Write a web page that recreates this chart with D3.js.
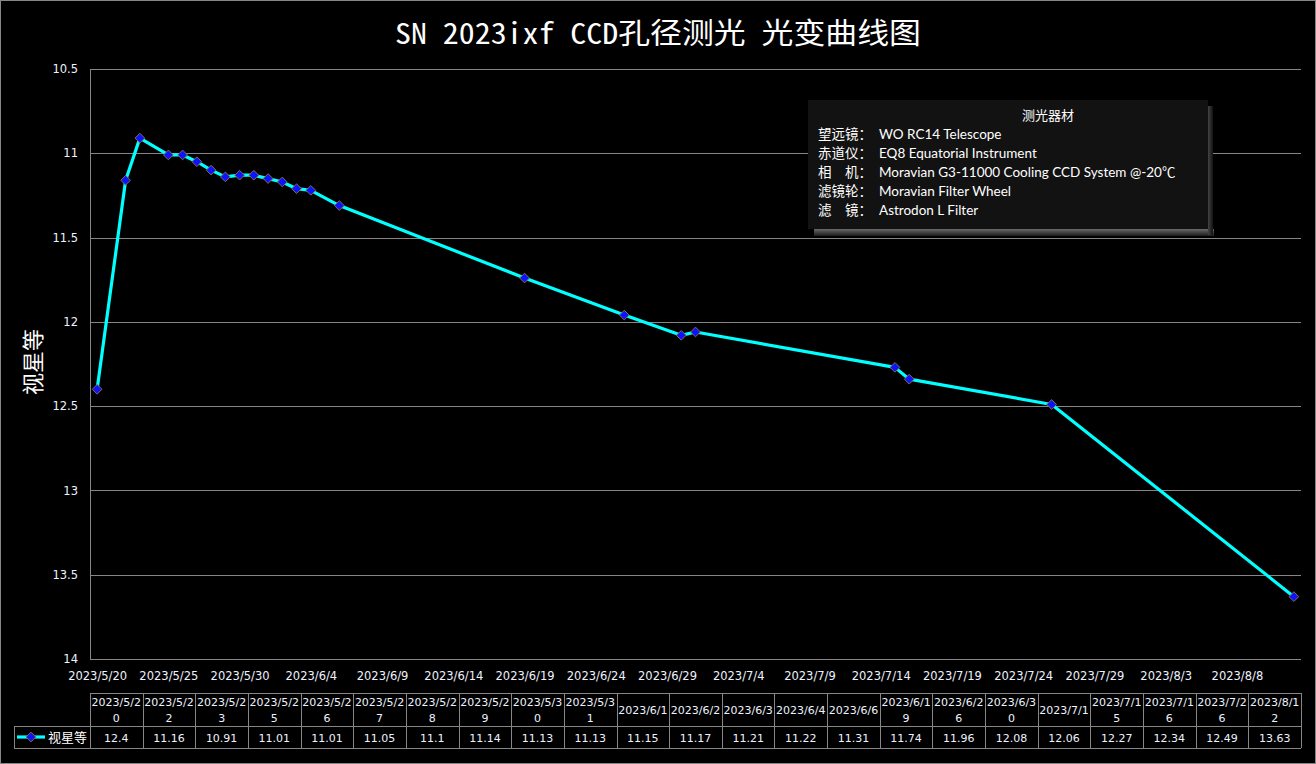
<!DOCTYPE html>
<html><head><meta charset="utf-8">
<script src="https://cdn.jsdelivr.net/npm/d3@7"></script>
<style>
html,body{margin:0;padding:0;background:#000;}
svg{display:block;}
</style></head>
<body>
<svg id="chart" width="1316" height="764"></svg>
<script>
// ---- data ----
const dates = ["2023/5/20","2023/5/22","2023/5/23","2023/5/25","2023/5/26","2023/5/27","2023/5/28","2023/5/29","2023/5/30","2023/5/31","2023/6/1","2023/6/2","2023/6/3","2023/6/4","2023/6/6","2023/6/19","2023/6/26","2023/6/30","2023/7/1","2023/7/15","2023/7/16","2023/7/26","2023/8/12"];
const mags = [12.4,11.16,10.91,11.01,11.01,11.05,11.1,11.14,11.13,11.13,11.15,11.17,11.21,11.22,11.31,11.74,11.96,12.08,12.06,12.27,12.34,12.49,13.63];
const yTicks = [10.5,11,11.5,12,12.5,13,13.5,14];
const xTickLabels = ["2023/5/20","2023/5/25","2023/5/30","2023/6/4","2023/6/9","2023/6/14","2023/6/19","2023/6/24","2023/6/29","2023/7/4","2023/7/9","2023/7/14","2023/7/19","2023/7/24","2023/7/29","2023/8/3","2023/8/8"];
const seriesName = "视星等";
const titleText = "SN 2023ixf CCD孔径测光 光变曲线图";
const yTitle = "视星等";
const boxTitle = "测光器材";
const boxLabels = ["望远镜：","赤道仪：","相　机：","滤镜轮：","滤　镜："];
const boxValues = ["WO RC14 Telescope","EQ8 Equatorial Instrument","Moravian G3-11000  Cooling CCD System @-20℃","Moravian Filter Wheel","Astrodon L Filter"];

// ---- helpers ----
const parse = s => { const [y,m,d] = s.split("/").map(Number); return new Date(Date.UTC(y,m-1,d)); };
const fmt = d3.utcFormat("%Y/%-m/%-d");
const pts = dates.map((d,i)=>({date:parse(d), v:mags[i], label:d}));

const svg = d3.select("#chart");
const W = 1316, H = 764;
const L = 90, R = 1301, T = 69, B = 659;
const txtCol = "#eef2ff";
const gridCol = "#868686";
const tableFont = "'DejaVu Sans', Verdana, sans-serif";

svg.append("rect").attr("x",0).attr("y",0).attr("width",W).attr("height",H).attr("fill","#000");
svg.append("rect").attr("x",0.5).attr("y",0.5).attr("width",W-1).attr("height",H-1)
  .attr("fill","none").attr("stroke",gridCol);

const x = d3.scaleUtc()
  .domain([d3.utcHour.offset(parse(dates[0]),-12), d3.utcHour.offset(parse(dates[dates.length-1]),12)])
  .range([L,R]);
const y = d3.scaleLinear().domain([10.5,14]).range([T,B]);

// title
svg.append("text").attr("x",658).attr("y",44)
  .attr("text-anchor","middle")
  .attr("font-family","'Noto Sans Mono CJK SC','Noto Sans CJK SC',monospace")
  .attr("font-size",29).attr("fill","#fff")
  .attr("textLength",526).attr("lengthAdjust","spacingAndGlyphs")
  .text(titleText);

// gridlines
svg.append("g").selectAll("line").data(yTicks).join("line")
  .attr("x1",L).attr("x2",R).attr("y1",d=>Math.round(y(d))+0.5).attr("y2",d=>Math.round(y(d))+0.5)
  .attr("stroke",gridCol).attr("stroke-width",1);
svg.append("line").attr("x1",L+0.5).attr("x2",L+0.5).attr("y1",T).attr("y2",B)
  .attr("stroke",gridCol);

// y axis
const yAxis = d3.axisLeft(y).tickValues(yTicks).tickSize(0).tickPadding(12).tickFormat(d=>String(d));
const gy = svg.append("g").attr("transform",`translate(${L},0)`).call(yAxis);
gy.select(".domain").remove();
gy.selectAll("text").attr("fill",txtCol).attr("font-family",tableFont).attr("font-size",11.5);

// x axis
const xAxis = d3.axisBottom(x).tickValues(xTickLabels.map(parse)).tickSize(0).tickPadding(13).tickFormat(fmt);
const gx = svg.append("g").attr("transform",`translate(0,${B})`).call(xAxis);
gx.select(".domain").remove();
gx.selectAll("text").attr("fill",txtCol).attr("font-family",tableFont).attr("font-size",11.5);

// y title
svg.append("text").attr("transform","translate(41,362) rotate(-90)")
  .attr("text-anchor","middle").attr("font-family","'Noto Sans CJK SC',sans-serif")
  .attr("font-size",22).attr("fill","#fff").text(yTitle);

// line
const line = d3.line().x(d=>x(d.date)).y(d=>y(d.v));
svg.append("path").datum(pts).attr("d",line).attr("fill","none")
  .attr("stroke","#00ffff").attr("stroke-width",3.2).attr("stroke-linejoin","round");
const diamond = d3.symbol().type(d3.symbolDiamond2).size(60);
svg.append("g").selectAll("path").data(pts).join("path")
  .attr("transform",d=>`translate(${x(d.date)},${y(d.v)})`)
  .attr("d",diamond).attr("fill","#0a14ff").attr("stroke","#8a6a48").attr("stroke-width",1);

// info box
const bx = 808, by = 100, bw = 400, bh = 129;
const defs = svg.append("defs");
const gB = defs.append("linearGradient").attr("id","shB").attr("x1",0).attr("y1",0).attr("x2",0).attr("y2",1);
gB.append("stop").attr("offset","0%").attr("stop-color","#6a6a6a");
gB.append("stop").attr("offset","100%").attr("stop-color","#1a1a1a");
const gR = defs.append("linearGradient").attr("id","shR").attr("x1",0).attr("y1",0).attr("x2",1).attr("y2",0);
gR.append("stop").attr("offset","0%").attr("stop-color","#444");
gR.append("stop").attr("offset","100%").attr("stop-color","#111");
svg.append("rect").attr("x",bx+6).attr("y",by+bh).attr("width",bw).attr("height",7).attr("fill","url(#shB)");
svg.append("rect").attr("x",bx+bw).attr("y",by+6).attr("width",5).attr("height",bh).attr("fill","url(#shR)");
svg.append("rect").attr("x",bx).attr("y",by).attr("width",bw).attr("height",bh).attr("fill","#121212");
svg.append("text").attr("x",1048).attr("y",120).attr("text-anchor","middle")
  .attr("font-family","'Noto Sans CJK SC',sans-serif").attr("font-size",13).attr("fill","#fff").text(boxTitle);
boxLabels.forEach((lab,i)=>{
  svg.append("text").attr("x",818).attr("y",139+i*19)
    .attr("font-family","'Noto Sans CJK SC',sans-serif").attr("font-size",13.5).attr("fill","#fff").text(lab);
  const v = boxValues[i];
  const t = svg.append("text").attr("x",879).attr("y",139+i*19)
    .attr("font-family","Lato,'Open Sans',sans-serif").attr("font-size",13.5).attr("fill","#fff");
  if (v.endsWith("℃")) {
    t.append("tspan").text(v.slice(0,-1));
    t.append("tspan").attr("font-family","'Noto Sans CJK SC',sans-serif").text("℃");
  } else t.text(v);
});

// data table
const n = pts.length;
const cw = (R-L)/n;
const t0 = 693, t1 = 726, t2 = 748, legX = 14;
const tg = svg.append("g").attr("stroke",gridCol).attr("stroke-width",1).attr("fill","none");
tg.append("line").attr("x1",L).attr("x2",R).attr("y1",t0+0.5).attr("y2",t0+0.5);
tg.append("line").attr("x1",legX).attr("x2",R).attr("y1",t1+0.5).attr("y2",t1+0.5);
tg.append("line").attr("x1",legX).attr("x2",R).attr("y1",t2+0.5).attr("y2",t2+0.5);
tg.append("line").attr("x1",legX+0.5).attr("x2",legX+0.5).attr("y1",t1).attr("y2",t2);
for(let i=0;i<=n;i++){
  const xx = Math.round(L+i*cw)+0.5;
  tg.append("line").attr("x1",xx).attr("x2",xx).attr("y1",t0).attr("y2",t2);
}
pts.forEach((p,i)=>{
  const cx = L+(i+0.5)*cw;
  const s = p.label;
  const lines = s.length>8 ? [s.slice(0,8), s.slice(8)] : [s];
  const g = svg.append("text").attr("text-anchor","middle").attr("font-family",tableFont)
    .attr("font-size",11).attr("fill",txtCol);
  if(lines.length===2){
    g.append("tspan").attr("x",cx).attr("y",706).text(lines[0]);
    g.append("tspan").attr("x",cx).attr("y",722).text(lines[1]);
  } else {
    g.append("tspan").attr("x",cx).attr("y",714).text(lines[0]);
  }
  svg.append("text").attr("x",cx).attr("y",742).attr("text-anchor","middle")
    .attr("font-family",tableFont).attr("font-size",11).attr("fill",txtCol).text(String(p.v));
});
// legend key in table
svg.append("line").attr("x1",17).attr("x2",45).attr("y1",737).attr("y2",737).attr("stroke","#00ffff").attr("stroke-width",3.2);
svg.append("path").attr("transform","translate(31,737)").attr("d",diamond)
  .attr("fill","#0a14ff").attr("stroke","#8a6a48");
svg.append("text").attr("x",48).attr("y",742).attr("font-family","'Noto Sans CJK SC',sans-serif")
  .attr("font-size",13).attr("fill","#fff").text(seriesName);
</script>
</body></html>
